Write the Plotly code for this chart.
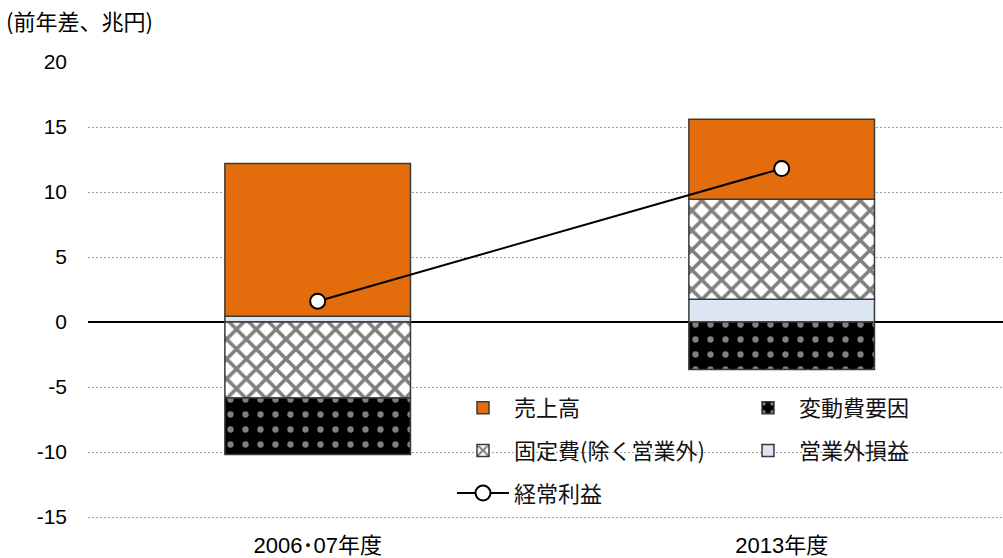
import plotly.graph_objects as go

# 前年差の要因分解(兆円)
periods = ["2006･07年度", "2013年度"]
sales = [11.75, 6.15]            # 売上高
variable_cost = [-4.35, -3.65]   # 変動費要因
fixed_cost = [-5.85, 7.7]        # 固定費(除く営業外)
non_operating = [0.45, 1.75]     # 営業外損益
recurring_profit = [1.6, 11.8]   # 経常利益

y_ticks = [-15, -10, -5, 0, 5, 10, 15, 20]

JP = "Noto Sans CJK JP"
NUM = "Liberation Sans, Arial, " + JP
BORDER = dict(color="#3a3a3a", width=1.5)
BAR_W = 0.4

# プロット領域(px)
L, T, B = 88, 62, 28
W, H = 1003, 558
PW, PH = W - L, H - T - B

fig = go.Figure()

# 積み上げ順: 正側は営業外→固定費→売上高、負側は固定費→変動費
fig.add_trace(go.Bar(
    x=periods, y=non_operating, name="営業外損益", width=BAR_W,
    marker=dict(color="#DCE6F2", line=BORDER),
    legend="legend2", legendgroup="g5", legendrank=2,
))
fig.add_trace(go.Bar(
    x=periods, y=fixed_cost, name="固定費(除く営業外)", width=BAR_W,
    marker=dict(color="white", line=BORDER,
                pattern=dict(shape="x", fgcolor="black", bgcolor="white",
                             size=14, solidity=0.45)),
    legend="legend", legendgroup="g2", legendrank=2,
))
fig.add_trace(go.Bar(
    x=periods, y=sales, name="売上高", width=BAR_W,
    marker=dict(color="#E36C0D", line=BORDER),
    legend="legend", legendgroup="g1", legendrank=1,
))
fig.add_trace(go.Bar(
    x=periods, y=variable_cost, name="変動費要因", width=BAR_W,
    marker=dict(color="black", line=BORDER,
                pattern=dict(shape=".", fgcolor="white", bgcolor="black",
                             size=15, solidity=0.14)),
    legend="legend2", legendgroup="g4", legendrank=1,
))
fig.add_trace(go.Scatter(
    x=periods, y=recurring_profit, name="経常利益", mode="lines+markers",
    line=dict(color="black", width=2),
    marker=dict(symbol="circle", size=15, color="white",
                line=dict(color="black", width=2)),
    legend="legend", legendgroup="g3", legendrank=3,
))

legend_common = dict(
    orientation="v", traceorder="grouped", tracegroupgap=11,
    itemwidth=52, font=dict(family=JP, size=22, color="#111"),
    bgcolor="rgba(0,0,0,0)", borderwidth=0,
    xanchor="left", yanchor="top",
)
legend_top = (H - B - 387) / PH

fig.update_layout(
    width=W, height=H,
    margin=dict(l=L, r=0, t=T, b=B, autoexpand=False),
    paper_bgcolor="white", plot_bgcolor="white",
    barmode="relative",
    showlegend=True,
    font=dict(family=NUM, size=21, color="black"),
    title=dict(text="(前年差、兆円)", font=dict(family=JP, size=22, color="black"),
               xref="container", yref="container", x=0.006, y=1 - 22 / H,
               xanchor="left", yanchor="middle"),
    legend=dict(x=(452 - L) / PW, y=legend_top, **legend_common),
    legend2=dict(x=(737 - L) / PW, y=legend_top, **legend_common),
    xaxis=dict(
        type="category", range=[-0.495, 1.477],
        showgrid=False, showline=False, ticks="",
        tickfont=dict(family=NUM, size=22, color="black"),
    ),
    yaxis=dict(
        range=[-16, 20], tickvals=y_ticks, ticktext=[str(v) for v in y_ticks],
        showgrid=True, gridcolor="#a0a0a0", griddash="2px,2px", gridwidth=1,
        zeroline=True, zerolinecolor="black", zerolinewidth=1.5,
        showline=False, ticks="", ticklabelstandoff=20,
        tickfont=dict(family=NUM, size=21, color="black"),
    ),
)

fig.write_html("out.html")
